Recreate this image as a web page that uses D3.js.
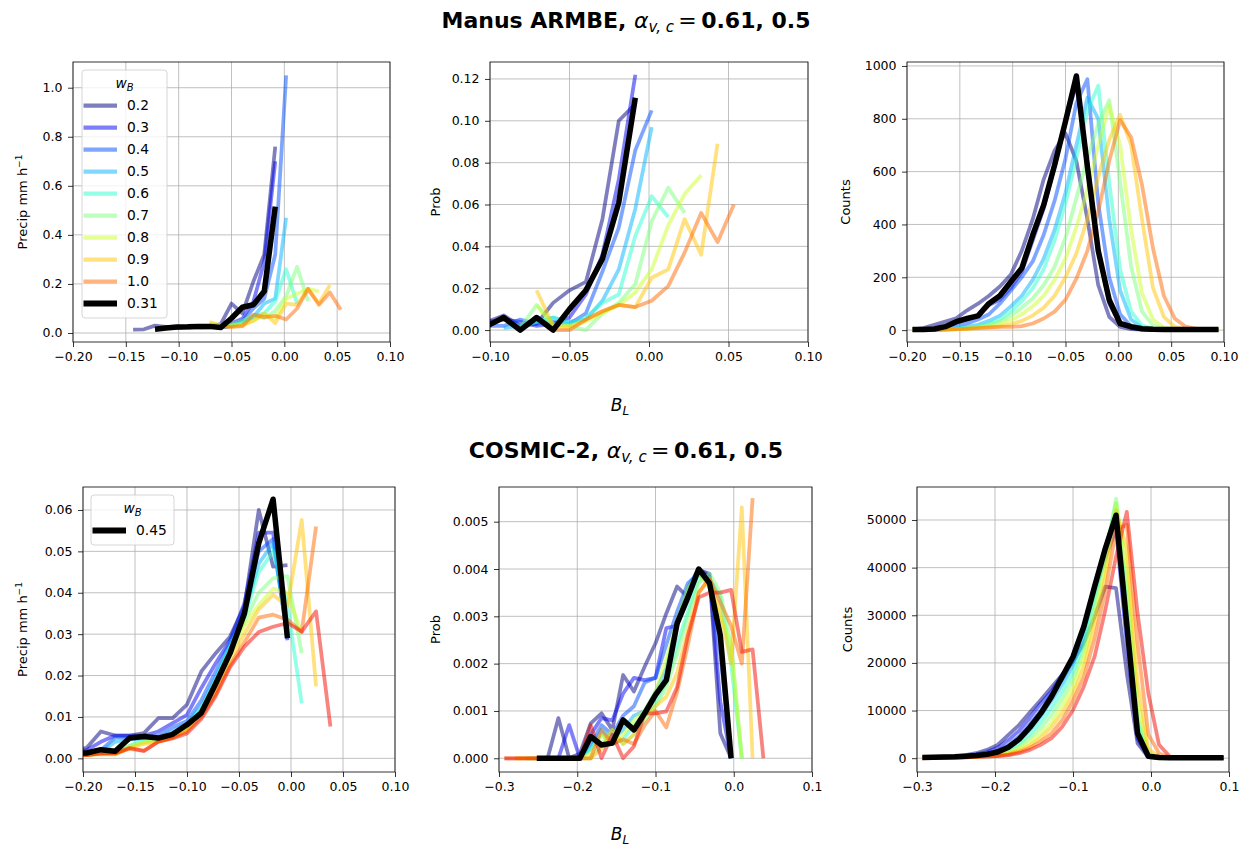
<!DOCTYPE html>
<html>
<head>
<meta charset="utf-8">
<script src="https://cdn.jsdelivr.net/npm/d3@7"></script>
<style>
  body { margin: 0; background: #ffffff; }
  svg text { font-family: "DejaVu Sans", sans-serif; fill: #000; }
</style>
</head>
<body>
<svg id="fig" width="1250" height="849"></svg>
<script>
// ---------------------------------------------------------------------------
// Buoyancy (B_L) bin centres
// ---------------------------------------------------------------------------
const armbeBL = [-0.1948, -0.1845, -0.1741, -0.1638, -0.1534, -0.1431, -0.1328, -0.1224, -0.1121, -0.1017,
                 -0.0914, -0.0810, -0.0707, -0.0603, -0.0500, -0.0397, -0.0293, -0.0190, -0.0086, 0.0017,
                 0.0121, 0.0224, 0.0328, 0.0431, 0.0534, 0.0638, 0.0741, 0.0845, 0.0948];
const cosmicBL = [-0.2931, -0.2793, -0.2655, -0.2517, -0.2379, -0.2241, -0.2103, -0.1966, -0.1828, -0.1690,
                  -0.1552, -0.1414, -0.1276, -0.1138, -0.1000, -0.0862, -0.0724, -0.0586, -0.0448, -0.0310,
                  -0.0172, -0.0034, 0.0103, 0.0241, 0.0379, 0.0517, 0.0655, 0.0793, 0.0931];

// lower-tropospheric weights
const armbeWB = [0.2, 0.3, 0.4, 0.5, 0.6, 0.7, 0.8, 0.9, 1.0];
const cosmicWB = [0.2, 0.3, 0.4, 0.5, 0.6, 0.7, 0.8, 0.9, 1.0, 1.1];
const armbeBestWB = 0.31;
const cosmicBestWB = 0.45;

// ---------------------------------------------------------------------------
// Manus ARMBE: each series starts at bin index given in *First
// ---------------------------------------------------------------------------
const armbeFirst = [5, 8, 9, 10, 11, 11, 12, 12, 13];
const armbeBestFirst = 7;

const armbePrecip = [
  [0.014, 0.015, 0.030, 0.025, 0.025, 0.025, 0.027, 0.030, 0.035, 0.120, 0.080, 0.210, 0.320, 0.760],
  [0.020, 0.022, 0.024, 0.025, 0.026, 0.022, 0.040, 0.058, 0.127, 0.290, 0.700],
  [0.020, 0.022, 0.024, 0.025, 0.022, 0.030, 0.050, 0.100, 0.140, 0.320, 1.050],
  [0.020, 0.022, 0.024, 0.022, 0.028, 0.045, 0.065, 0.120, 0.140, 0.470],
  [0.020, 0.022, 0.025, 0.030, 0.040, 0.070, 0.080, 0.130, 0.260, 0.120],
  [0.020, 0.025, 0.030, 0.035, 0.050, 0.070, 0.060, 0.090, 0.150, 0.270, 0.130],
  [0.040, 0.030, 0.030, 0.035, 0.050, 0.075, 0.060, 0.140, 0.160, 0.180, 0.170],
  [0.045, 0.030, 0.025, 0.030, 0.050, 0.080, 0.040, 0.120, 0.115, 0.180, 0.120, 0.195],
  [0.025, 0.025, 0.028, 0.075, 0.065, 0.070, 0.055, 0.100, 0.180, 0.115, 0.165, 0.095]
];
const armbePrecipBest = [0.015, 0.020, 0.024, 0.025, 0.027, 0.027, 0.022, 0.060, 0.105, 0.115, 0.170, 0.515];

const armbeProb = [
  [0.003, 0.004, 0.005, 0.004, 0.004, 0.007, 0.002, 0.003, 0.013, 0.019, 0.023, 0.053, 0.100, 0.108],
  [0.003, 0.004, 0.005, 0.004, 0.002, 0.003, 0.006, 0.017, 0.036, 0.072, 0.122],
  [0.002, 0.002, 0.005, 0.003, 0.004, 0.003, 0.008, 0.028, 0.049, 0.086, 0.105],
  [0.001, 0.002, 0.004, 0.006, 0.004, 0.005, 0.014, 0.029, 0.058, 0.097],
  [0.001, 0.004, 0.006, 0.003, 0.006, 0.013, 0.017, 0.045, 0.064, 0.054],
  [0.001, 0.012, 0.003, 0.002, 0.000, 0.008, 0.013, 0.022, 0.052, 0.068, 0.056],
  [0.012, 0.002, 0.002, 0.004, 0.008, 0.012, 0.018, 0.029, 0.050, 0.065, 0.074],
  [0.019, 0.002, 0.001, 0.005, 0.009, 0.012, 0.011, 0.025, 0.029, 0.053, 0.036, 0.089],
  [0.000, 0.000, 0.005, 0.009, 0.012, 0.011, 0.014, 0.021, 0.037, 0.056, 0.042, 0.060]
];
const armbeProbBest = [0.002, 0.004, 0.002, 0.006, 0.000, 0.006, 0.000, 0.010, 0.019, 0.034, 0.061, 0.111];

// counts cover every bin
const armbeCounts = [
  [3, 8, 20, 32, 45, 75, 100, 130, 165, 210, 300, 420, 570, 680, 745, 640, 420, 170, 50, 12, 4, 2, 1, 0, 0, 0, 0, 0, 0],
  [2, 3, 6, 14, 28, 40, 55, 95, 115, 160, 220, 340, 460, 620, 790, 930, 640, 300, 100, 22, 8, 3, 1, 0, 0, 0, 0, 0, 0],
  [1, 2, 4, 8, 15, 25, 40, 60, 100, 150, 200, 260, 360, 490, 650, 860, 950, 480, 200, 60, 15, 4, 1, 0, 0, 0, 0, 0, 0],
  [0, 1, 2, 4, 7, 12, 20, 35, 55, 90, 130, 190, 270, 380, 520, 700, 880, 800, 420, 150, 40, 10, 3, 1, 0, 0, 0, 0, 0],
  [0, 1, 2, 3, 6, 10, 15, 25, 40, 70, 110, 158, 230, 340, 480, 650, 830, 925, 560, 230, 70, 18, 5, 1, 0, 0, 0, 0, 0],
  [0, 0, 1, 3, 5, 8, 12, 20, 32, 55, 85, 120, 170, 240, 350, 500, 650, 780, 870, 560, 240, 70, 18, 5, 1, 0, 0, 0, 0],
  [0, 0, 1, 2, 4, 6, 9, 14, 22, 38, 60, 90, 130, 190, 270, 390, 530, 700, 850, 700, 380, 140, 40, 10, 3, 1, 0, 0, 0],
  [0, 0, 1, 2, 3, 5, 7, 10, 14, 22, 35, 55, 85, 130, 200, 290, 420, 580, 720, 815, 700, 420, 160, 50, 12, 3, 1, 0, 0],
  [0, 0, 0, 2, 4, 6, 8, 10, 12, 12, 15, 25, 44, 70, 115, 195, 300, 450, 640, 795, 730, 550, 310, 130, 44, 13, 5, 2, 1]
];
const armbeCountsBest = [2, 2, 4, 13, 32, 44, 54, 101, 130, 183, 234, 360, 473, 625, 790, 962, 620, 300, 114, 25, 13, 5, 3, 2, 2, 2, 2, 2, 2];

// ---------------------------------------------------------------------------
// COSMIC-2
// ---------------------------------------------------------------------------
const cosmicPrecipFirst = [6, 6, 6, 6, 6, 6, 6, 6, 6, 6];
const cosmicPrecipBestFirst = 6;
const cosmicPrecip = [
  [0.0022, 0.0025, 0.0065, 0.0055, 0.0055, 0.0061, 0.0097, 0.0097, 0.0130, 0.0210, 0.0254, 0.0294, 0.0367, 0.0600, 0.0463, 0.0467],
  [0.0015, 0.0020, 0.0040, 0.0055, 0.0055, 0.0055, 0.0065, 0.0085, 0.0105, 0.0170, 0.0230, 0.0285, 0.0375, 0.0545, 0.0545, 0.0285],
  [0.0012, 0.0015, 0.0020, 0.0050, 0.0050, 0.0050, 0.0055, 0.0075, 0.0090, 0.0140, 0.0210, 0.0280, 0.0360, 0.0500, 0.0530, 0.0290],
  [0.0010, 0.0012, 0.0015, 0.0040, 0.0045, 0.0048, 0.0050, 0.0065, 0.0085, 0.0125, 0.0195, 0.0270, 0.0350, 0.0470, 0.0520, 0.0300],
  [0.0010, 0.0010, 0.0012, 0.0015, 0.0030, 0.0045, 0.0045, 0.0060, 0.0080, 0.0120, 0.0190, 0.0270, 0.0340, 0.0450, 0.0500, 0.0370, 0.0133],
  [0.0010, 0.0010, 0.0010, 0.0010, 0.0030, 0.0040, 0.0045, 0.0055, 0.0075, 0.0115, 0.0180, 0.0260, 0.0330, 0.0400, 0.0435, 0.0440, 0.0254],
  [0.0008, 0.0008, 0.0010, 0.0010, 0.0028, 0.0038, 0.0042, 0.0052, 0.0072, 0.0110, 0.0170, 0.0250, 0.0320, 0.0370, 0.0410, 0.0400, 0.0300],
  [0.0008, 0.0008, 0.0010, 0.0009, 0.0025, 0.0035, 0.0040, 0.0050, 0.0070, 0.0105, 0.0160, 0.0235, 0.0300, 0.0360, 0.0395, 0.0367, 0.0576, 0.0174],
  [0.0008, 0.0008, 0.0012, 0.0012, 0.0023, 0.0018, 0.0040, 0.0050, 0.0065, 0.0100, 0.0155, 0.0225, 0.0280, 0.0340, 0.0347, 0.0335, 0.0306, 0.0560],
  [0.0008, 0.0008, 0.0012, 0.0012, 0.0025, 0.0018, 0.0040, 0.0048, 0.0060, 0.0095, 0.0150, 0.0220, 0.0270, 0.0305, 0.0318, 0.0327, 0.0306, 0.0355, 0.0077]
];
const cosmicPrecipBest = [0.0012, 0.0013, 0.0021, 0.0017, 0.0049, 0.0053, 0.0049, 0.0058, 0.0081, 0.0110, 0.0180, 0.0254, 0.0350, 0.0520, 0.0626, 0.0290];

const cosmicProbFirst = [4, 4, 3, 3, 2, 2, 1, 1, 0, 0];
const cosmicProbBestFirst = 3;
const cosmicProb = [
  [0, 0.00085, 0, 0.0001, 0.00074, 0.00095, 0.0006, 0.00176, 0.00141, 0.00194, 0.00243, 0.00306, 0.00363, 0.0034, 0.00398, 0.0039, 0.00053, 0],
  [0, 0, 0.0007, 0, 0.0005, 0.00085, 0.0008, 0.00137, 0.0017, 0.00165, 0.0017, 0.00275, 0.0028, 0.0036, 0.0040, 0.00384, 0.0012, 0],
  [0, 0, 0, 0, 0, 0.0003, 0.0007, 0.0005, 0.0009, 0.0011, 0.0016, 0.0017, 0.0024, 0.0031, 0.0037, 0.0039, 0.0037, 0.0022, 0],
  [0, 0, 0, 0, 0, 0.0002, 0.0006, 0.0004, 0.0006, 0.0009, 0.0010, 0.0014, 0.0019, 0.0029, 0.0036, 0.0040, 0.0037, 0.0026, 0],
  [0, 0, 0, 0, 0, 0, 0.0002, 0.0005, 0.0003, 0.0004, 0.0007, 0.0009, 0.0012, 0.0016, 0.0024, 0.0031, 0.0038, 0.0038, 0.0034, 0.0020, 0],
  [0, 0, 0, 0, 0, 0, 0, 0.0003, 0.0006, 0.0003, 0.0005, 0.0008, 0.0011, 0.0015, 0.0022, 0.0030, 0.0037, 0.0039, 0.0035, 0.0024, 0],
  [0, 0, 0, 0, 0, 0, 0, 0.0001, 0.0005, 0.0003, 0.0005, 0.0008, 0.0010, 0.0014, 0.0021, 0.0029, 0.0036, 0.0039, 0.0036, 0.0030, 0.0024, 0],
  [0, 0, 0, 0, 0, 0, 0, 0, 0.0002, 0.0006, 0.0003, 0.0005, 0.0009, 0.0011, 0.0013, 0.0018, 0.0027, 0.0035, 0.0038, 0.0031, 0.0020, 0.0053, 0],
  [0, 0, 0, 0, 0, 0, 0, 0, 0, 0.0006, 0.0003, 0.0004, 0.0003, 0.0007, 0.0010, 0.00065, 0.0014, 0.0024, 0.0035, 0.0038, 0.0033, 0.0028, 0.0020, 0.0055],
  [0, 0, 0, 0, 0, 0, 0, 0, 0.0007, 0, 0.0005, 0, 0.00025, 0.00095, 0.00095, 0.00099, 0.0015, 0.0026, 0.0034, 0.0035, 0.0035, 0.00356, 0.00225, 0.0023, 0]
];
const cosmicProbBest = [0, 0, 0, 0, 0, 0.00046, 0.00028, 0.00032, 0.00081, 0.0006, 0.00095, 0.00134, 0.00165, 0.00285, 0.0034, 0.0040, 0.0037, 0.0026, 0];

const cosmicCounts = [
  [100, 150, 250, 400, 630, 1050, 1750, 2800, 4900, 7000, 9650, 12240, 14900, 17500, 20300, 24100, 29700, 36000, 35700, 17800, 3100, 200, 100, 80, 60, 50, 50, 50, 50],
  [100, 150, 220, 330, 500, 800, 1300, 2200, 3800, 5800, 8500, 11500, 14000, 17500, 21000, 27000, 35000, 42000, 48000, 24000, 4000, 300, 100, 80, 60, 50, 50, 50, 50],
  [100, 140, 200, 290, 420, 650, 1000, 1600, 2800, 4600, 7200, 10000, 13500, 16500, 20500, 27000, 35500, 44000, 50000, 27000, 5000, 400, 120, 80, 60, 50, 50, 50, 50],
  [90, 130, 180, 250, 350, 520, 800, 1200, 2200, 3700, 6000, 8800, 12000, 15500, 19500, 26000, 35000, 44000, 52000, 30000, 6000, 500, 150, 80, 60, 50, 50, 50, 50],
  [80, 120, 160, 220, 300, 450, 650, 1000, 1800, 3000, 5000, 7500, 10500, 14000, 18000, 24000, 33500, 43000, 53500, 33000, 7500, 600, 150, 80, 60, 50, 50, 50, 50],
  [70, 110, 140, 190, 260, 380, 550, 800, 1400, 2500, 4200, 6300, 9000, 12500, 16500, 22500, 32000, 42000, 54500, 36000, 9000, 800, 200, 80, 60, 50, 50, 50, 50],
  [60, 100, 130, 170, 230, 330, 480, 700, 1100, 2000, 3400, 5200, 7500, 11000, 15000, 21000, 30000, 40000, 53500, 40000, 12000, 1200, 250, 100, 60, 50, 50, 50, 50],
  [55, 90, 120, 150, 210, 300, 420, 600, 900, 1600, 2700, 4300, 6500, 9500, 13500, 19000, 28000, 38000, 52000, 44000, 16000, 2000, 350, 100, 60, 50, 50, 50, 50],
  [50, 85, 110, 140, 190, 270, 380, 500, 750, 1300, 2200, 3500, 5200, 8000, 12000, 17000, 25000, 35000, 48000, 49000, 24000, 5000, 1000, 200, 80, 50, 50, 50, 50],
  [50, 80, 100, 130, 180, 250, 350, 450, 630, 1050, 1750, 2800, 4200, 6600, 10100, 15000, 21300, 31100, 42300, 51700, 30400, 13600, 2800, 350, 100, 50, 50, 50, 50]
];
const cosmicCountsBest = [150, 200, 250, 300, 400, 550, 800, 1300, 2300, 4000, 6500, 9400, 12900, 17100, 21300, 27600, 36000, 44000, 51000, 28000, 5200, 400, 150, 100, 100, 100, 100, 100, 100];

// ---------------------------------------------------------------------------
// Tick values
// ---------------------------------------------------------------------------
const ticksBL20 = [-0.20, -0.15, -0.10, -0.05, 0.00, 0.05, 0.10];
const ticksBL10 = [-0.10, -0.05, 0.00, 0.05, 0.10];
const ticksBL30 = [-0.3, -0.2, -0.1, 0.0, 0.1];
const ticksArmbePrecip = [0.0, 0.2, 0.4, 0.6, 0.8, 1.0];
const ticksArmbeProb = [0.00, 0.02, 0.04, 0.06, 0.08, 0.10, 0.12];
const ticksArmbeCounts = [0, 200, 400, 600, 800, 1000];
const ticksCosmicPrecip = [0.00, 0.01, 0.02, 0.03, 0.04, 0.05, 0.06];
const ticksCosmicProb = [0.000, 0.001, 0.002, 0.003, 0.004, 0.005];
const ticksCosmicCounts = [0, 10000, 20000, 30000, 40000, 50000];

// ---------------------------------------------------------------------------
// jet colour map (piecewise linear, as in matplotlib)
// ---------------------------------------------------------------------------
const jetR = [[0, 0], [0.35, 0], [0.66, 1], [0.89, 1], [1, 0.5]];
const jetG = [[0, 0], [0.125, 0], [0.375, 1], [0.64, 1], [0.91, 0], [1, 0]];
const jetB = [[0, 0.5], [0.11, 1], [0.34, 1], [0.65, 0], [1, 0]];
function seg(pts, t) {
  for (let i = 1; i < pts.length; i++) {
    if (t <= pts[i][0]) {
      const [x0, y0] = pts[i - 1], [x1, y1] = pts[i];
      return y0 + (y1 - y0) * (t - x0) / (x1 - x0);
    }
  }
  return pts[pts.length - 1][1];
}
function jet(t) {
  return d3.rgb(255 * seg(jetR, t), 255 * seg(jetG, t), 255 * seg(jetB, t)).formatHex();
}
const wbColor = w => jet(Math.max(0, Math.min(1, w - 0.2)));

// ---------------------------------------------------------------------------
// Figure
// ---------------------------------------------------------------------------
const svg = d3.select("#fig");
const defs = svg.append("defs");
svg.append("rect").attr("width", 1250).attr("height", 849).attr("fill", "#fff");

const LW = 3.75, LW_BEST = 5.5, ALPHA = 0.5;
const fmt = s => d3.format(s);

function buildSeries(bins, firsts, values, wbs, bestFirst, bestValues) {
  const out = values.map((vals, i) => ({
    color: wbColor(wbs[i]), alpha: ALPHA, width: LW,
    pts: vals.map((v, j) => [bins[firsts[i] + j], v])
  }));
  out.push({
    color: "#000", alpha: 1, width: LW_BEST,
    pts: bestValues.map((v, j) => [bins[bestFirst + j], v])
  });
  return out;
}

const topY0 = 62, topY1 = 342, botY0 = 487, botY1 = 772;

const panels = [
  { x0: 73, x1: 390, y0: topY0, y1: topY1, xd: [-0.2, 0.1], yd: [-0.0367, 1.1048],
    xt: ticksBL20, xf: fmt(".2f"), yt: ticksArmbePrecip, yf: fmt(".1f"), ylab: "precip", ylx: 22,
    series: buildSeries(armbeBL, armbeFirst, armbePrecip, armbeWB, armbeBestFirst, armbePrecipBest) },
  { x0: 490, x1: 808, y0: topY0, y1: topY1, xd: [-0.1, 0.1], yd: [-0.0057, 0.1281],
    xt: ticksBL10, xf: fmt(".2f"), yt: ticksArmbeProb, yf: fmt(".2f"), ylab: "Prob", ylx: 435,
    series: buildSeries(armbeBL, armbeFirst, armbeProb, armbeWB, armbeBestFirst, armbeProbBest) },
  { x0: 907, x1: 1224, y0: topY0, y1: topY1, xd: [-0.2, 0.1], yd: [-45, 1015],
    xt: ticksBL20, xf: fmt(".2f"), yt: ticksArmbeCounts, yf: fmt("d"), ylab: "Counts", ylx: 845,
    series: buildSeries(armbeBL, armbeFirst.map(() => 0), armbeCounts, armbeWB, 0, armbeCountsBest) },
  { x0: 83, x1: 395, y0: botY0, y1: botY1, xd: [-0.2, 0.1], yd: [-0.0033, 0.06555],
    xt: ticksBL20, xf: fmt(".2f"), yt: ticksCosmicPrecip, yf: fmt(".2f"), ylab: "precip", ylx: 22,
    series: buildSeries(cosmicBL, cosmicPrecipFirst, cosmicPrecip, cosmicWB, cosmicPrecipBestFirst, cosmicPrecipBest) },
  { x0: 499, x1: 812, y0: botY0, y1: botY1, xd: [-0.3, 0.1], yd: [-0.00029, 0.005733],
    xt: ticksBL30, xf: fmt(".1f"), yt: ticksCosmicProb, yf: fmt(".3f"), ylab: "Prob", ylx: 435,
    series: buildSeries(cosmicBL, cosmicProbFirst, cosmicProb, cosmicWB, cosmicProbBestFirst, cosmicProbBest) },
  { x0: 917, x1: 1229, y0: botY0, y1: botY1, xd: [-0.3, 0.1], yd: [-2900, 56925],
    xt: ticksBL30, xf: fmt(".1f"), yt: ticksCosmicCounts, yf: fmt("d"), ylab: "Counts", ylx: 847,
    series: buildSeries(cosmicBL, cosmicWB.map(() => 0), cosmicCounts, cosmicWB, 0, cosmicCountsBest) }
];

panels.forEach((p, pi) => {
  const g = svg.append("g");
  const x = d3.scaleLinear().domain(p.xd).range([p.x0, p.x1]);
  const y = d3.scaleLinear().domain(p.yd).range([p.y1, p.y0]);

  // grid
  const grid = g.append("g").attr("stroke", "#b0b0b0").attr("stroke-width", 0.8);
  grid.selectAll("line.gx").data(p.xt).join("line")
    .attr("x1", d => x(d)).attr("x2", d => x(d)).attr("y1", p.y0).attr("y2", p.y1);
  grid.selectAll("line.gy").data(p.yt).join("line")
    .attr("y1", d => y(d)).attr("y2", d => y(d)).attr("x1", p.x0).attr("x2", p.x1);

  // curves
  const cid = "clip" + pi;
  defs.append("clipPath").attr("id", cid).append("rect")
    .attr("x", p.x0).attr("y", p.y0).attr("width", p.x1 - p.x0).attr("height", p.y1 - p.y0);
  const lg = g.append("g").attr("clip-path", `url(#${cid})`);
  const line = d3.line().x(d => x(d[0])).y(d => y(d[1]));
  p.series.forEach(s => {
    lg.append("path").attr("d", line(s.pts))
      .attr("fill", "none").attr("stroke", s.color).attr("stroke-opacity", s.alpha)
      .attr("stroke-width", s.width).attr("stroke-linejoin", "round").attr("stroke-linecap", "butt");
  });

  // axes
  const ax = g.append("g").attr("transform", `translate(0,${p.y1})`)
    .call(d3.axisBottom(x).tickValues(p.xt).tickFormat(p.xf).tickSize(5).tickPadding(5.5));
  const ay = g.append("g").attr("transform", `translate(${p.x0},0)`)
    .call(d3.axisLeft(y).tickValues(p.yt).tickFormat(p.yf).tickSize(5).tickPadding(5.5));
  [ax, ay].forEach(a => {
    a.select(".domain").remove();
    a.selectAll(".tick line").attr("stroke", "#000").attr("stroke-width", 0.8);
    a.selectAll(".tick text").attr("font-size", "12.5px").attr("font-family", "DejaVu Sans").attr("fill", "#000");
  });

  // frame
  g.append("rect").attr("x", p.x0).attr("y", p.y0).attr("width", p.x1 - p.x0).attr("height", p.y1 - p.y0)
    .attr("fill", "none").attr("stroke", "#000").attr("stroke-width", 0.8);

  // y label
  const cy = (p.y0 + p.y1) / 2;
  const yl = g.append("text").attr("transform", `translate(${p.ylx},${cy}) rotate(-90)`)
    .attr("text-anchor", "middle").attr("dy", "0.35em").attr("font-size", "13px");
  if (p.ylab === "precip") {
    yl.append("tspan").text("Precip mm h");
    yl.append("tspan").attr("font-size", "9px").attr("dy", "-0.5em").text("\u22121");
  } else {
    yl.text(p.ylab);
  }
});

// ---------------------------------------------------------------------------
// Titles and shared x labels
// ---------------------------------------------------------------------------
function title(name, yBase) {
  const t = svg.append("text").attr("x", 626).attr("y", yBase).attr("text-anchor", "middle")
    .attr("font-size", "22px");
  t.append("tspan").attr("font-weight", "bold").text(name + ", ");
  t.append("tspan").attr("font-style", "italic").text("\u03b1");
  t.append("tspan").attr("font-style", "italic").attr("font-size", "15px").attr("dy", "4").text("v, c");
  t.append("tspan").attr("dy", "-4").text("\u2009=\u2009");
  t.append("tspan").attr("font-weight", "bold").text("0.61, 0.5");
}
title("Manus ARMBE", 28);
title("COSMIC-2", 458);

function xlabel(yBase) {
  const t = svg.append("text").attr("x", 620).attr("y", yBase).attr("text-anchor", "middle")
    .attr("font-size", "17px");
  t.append("tspan").attr("font-style", "italic").text("B");
  t.append("tspan").attr("font-style", "italic").attr("font-size", "12px").attr("dy", "4").text("L");
}
xlabel(411);
xlabel(840);

// ---------------------------------------------------------------------------
// Legends
// ---------------------------------------------------------------------------
function legend(x0, y0, entries) {
  const rowH = 22;
  const h = 28 + entries.length * rowH;
  const w = entries.length > 1 ? 85 : 83;
  const g = svg.append("g");
  g.append("rect").attr("x", x0).attr("y", y0).attr("width", w).attr("height", h).attr("rx", 3)
    .attr("fill", "#fff").attr("fill-opacity", 0.8).attr("stroke", "#cccccc").attr("stroke-width", 0.8);
  const tt = g.append("text").attr("x", x0 + w / 2).attr("y", y0 + 18).attr("text-anchor", "middle")
    .attr("font-size", "13.8px");
  tt.append("tspan").attr("font-style", "italic").text("w");
  tt.append("tspan").attr("font-style", "italic").attr("font-size", "10px").attr("dy", "3").text("B");
  entries.forEach((e, i) => {
    const yy = y0 + 35.5 + i * rowH;
    g.append("line").attr("x1", x0 + 1.5).attr("x2", x0 + 35).attr("y1", yy).attr("y2", yy)
      .attr("stroke", e.color).attr("stroke-opacity", e.alpha).attr("stroke-width", e.width);
    g.append("text").attr("x", x0 + 45).attr("y", yy).attr("dy", "0.36em")
      .attr("font-size", "13.8px").text(e.label);
  });
}
const armbeEntries = armbeWB.map(w => ({ label: d3.format(".1f")(w), color: wbColor(w), alpha: ALPHA, width: LW + 0.5 }));
armbeEntries.push({ label: String(armbeBestWB), color: "#000", alpha: 1, width: LW_BEST + 0.5 });
legend(82, 70, armbeEntries);
legend(91, 495, [{ label: String(cosmicBestWB), color: "#000", alpha: 1, width: LW_BEST + 0.5 }]);
</script>
</body>
</html>
